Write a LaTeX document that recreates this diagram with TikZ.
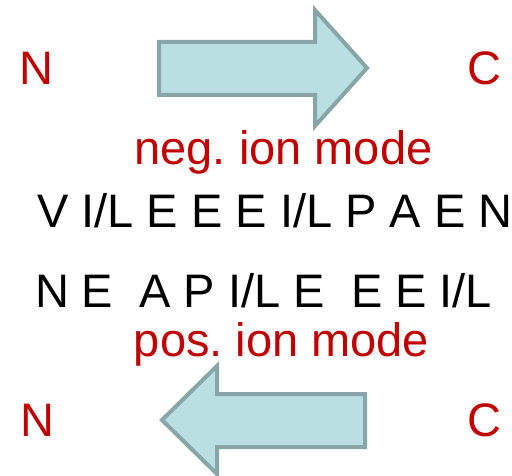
\documentclass[tikz,border=0pt]{standalone}
\usepackage{fontspec}
\setmainfont{Liberation Sans}
\frenchspacing
\definecolor{redtxt}{HTML}{C00000}
\definecolor{arrfill}{HTML}{B9DFE2}
\definecolor{arrline}{HTML}{88A5A7}
\tikzset{
  lbl/.style={inner sep=0pt, anchor=base, font=\fontsize{47}{50}\selectfont},
  redlbl/.style={lbl, text=redtxt},
  seq/.style={lbl, anchor=base west},
  bigarrow/.style={fill=arrfill, draw=arrline, line width=4pt, line join=miter}
}
\begin{document}
\begin{tikzpicture}[x=1pt,y=-1pt]
\useasboundingbox (0,0) rectangle (512,476);
% top arrow (pointing right)
\draw[bigarrow] (159,42) -- (315,42) -- (315,10) -- (367,68) -- (315,126) -- (315,95) -- (159,95) -- cycle;
% bottom arrow (pointing left)
\draw[bigarrow] (365,394) -- (217,394) -- (217,366) -- (162,420) -- (217,474) -- (217,447) -- (365,447) -- cycle;
% labels
\node[redlbl] (nTop) at (36.5,84.5) {N};
\node[redlbl] (cTop) at (484,85) {C};
\node[redlbl] (neg) at (283.5,165) {neg.\ ion mode};
\node[seq] (row1) at (37,228) {V I/L E E E I/L P A E N};
\node[seq] (row2) at (34.8,308) {N E\ \ A P I/L E\ \ E E I/L};
\node[redlbl] (pos) at (281.5,356) {pos.\ ion mode};
\node[redlbl] (nBot) at (37,436.5) {N};
\node[redlbl] (cBot) at (484,436.5) {C};
\end{tikzpicture}
\end{document}
